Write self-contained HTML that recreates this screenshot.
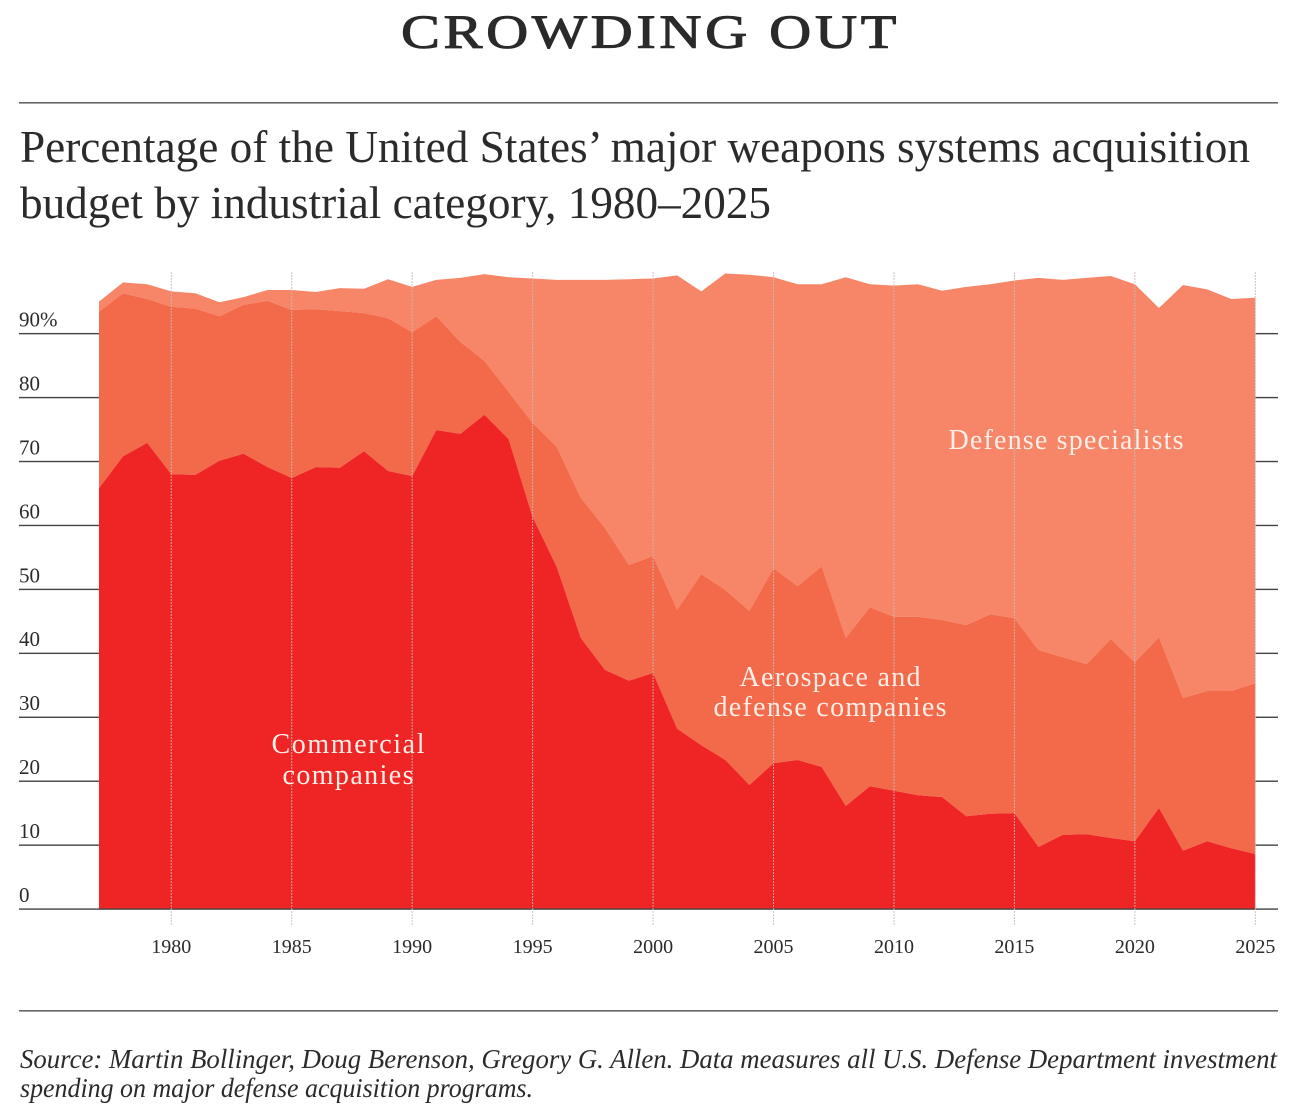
<!DOCTYPE html>
<html lang="en">
<head>
<meta charset="utf-8">
<title>Crowding Out</title>
<style>
html,body{margin:0;padding:0;background:#fff}
body{width:1304px;height:1120px;overflow:hidden}
svg{display:block}
text{font-family:"Liberation Serif",serif}
</style>
</head>
<body>
<svg id="figure" xmlns="http://www.w3.org/2000/svg" width="1304" height="1120" viewBox="0 0 1304 1120">
  <rect x="0" y="0" width="1304" height="1120" fill="#ffffff"/>
  <text x="401" y="48" font-size="48" fill="#2a2a2a" letter-spacing="3" textLength="499" lengthAdjust="spacingAndGlyphs" stroke="#2a2a2a" stroke-width="1">CROWDING OUT</text>
  <rect x="19" y="102" width="1259" height="1.6" fill="#666"/>
  <text x="20" y="162" font-size="46" fill="#2b2b2b" textLength="1230" lengthAdjust="spacingAndGlyphs">Percentage of the United States’ major weapons systems acquisition</text>
  <text x="20" y="218" font-size="46" fill="#2b2b2b" textLength="751" lengthAdjust="spacingAndGlyphs">budget by industrial category, 1980–2025</text>
  <g id="chart"></g>
  <text x="1066" y="449" font-size="28" fill="#fdeee8" text-anchor="middle" textLength="235" lengthAdjust="spacing">Defense specialists</text>
  <text x="830" y="686" font-size="28" fill="#fdeee8" text-anchor="middle" textLength="181" lengthAdjust="spacing">Aerospace and</text>
  <text x="830" y="716" font-size="28" fill="#fdeee8" text-anchor="middle" textLength="233" lengthAdjust="spacing">defense companies</text>
  <text x="348" y="753" font-size="28" fill="#fdeee8" text-anchor="middle" textLength="153" lengthAdjust="spacing">Commercial</text>
  <text x="348" y="784" font-size="28" fill="#fdeee8" text-anchor="middle" textLength="131" lengthAdjust="spacing">companies</text>
  <rect x="19" y="1010" width="1259" height="1.6" fill="#666"/>
  <text x="20" y="1068" font-size="27" font-style="italic" fill="#2b2b2b" textLength="1257" lengthAdjust="spacingAndGlyphs">Source: Martin Bollinger, Doug Berenson, Gregory G. Allen. Data measures all U.S. Defense Department investment</text>
  <text x="20" y="1097" font-size="27" font-style="italic" fill="#2b2b2b" textLength="513" lengthAdjust="spacingAndGlyphs">spending on major defense acquisition programs.</text>
</svg>
<script>
const firstYear = 1977;
const commercial = [65.8,70.8,72.9,68.0,67.9,70.1,71.2,69.1,67.4,69.1,69.0,71.6,68.5,67.7,74.9,74.3,77.3,73.5,61.3,53.5,42.4,37.4,35.7,36.9,28.2,25.6,23.3,19.4,22.8,23.3,22.2,16.1,19.2,18.5,17.8,17.5,14.5,14.9,15.0,9.7,11.6,11.7,11.1,10.6,15.8,9.1,10.6,9.5,8.6];
const aerospace = [27.6,25.5,22.5,26.2,26.0,22.6,23.3,26.0,26.3,24.7,24.5,21.6,23.9,22.5,17.8,14.4,8.4,7.4,14.7,18.8,21.9,22.2,18.1,18.3,18.6,26.8,26.6,27.2,30.5,27.2,31.4,26.3,28.0,27.2,27.9,27.7,29.9,31.2,30.5,30.8,27.8,26.6,31.1,28.0,26.7,23.9,23.5,24.6,26.7];
const specialists = [1.6,1.7,2.3,2.4,2.4,2.2,1.2,1.7,3.1,2.7,3.6,3.8,6.1,7.1,5.7,10.0,13.6,17.9,22.6,26.1,34.1,38.8,44.7,43.4,52.3,44.2,49.5,52.6,45.5,47.2,44.1,56.4,50.5,51.8,52.0,51.5,52.9,51.6,52.8,58.2,59.0,60.4,56.8,59.1,51.5,64.6,62.8,61.3,60.3];
const xTickYears = [1980,1985,1990,1995,2000,2005,2010,2015,2020,2025];
const yTickValues = [0,10,20,30,40,50,60,70,80,90];
const yTickLabels = ["0","10","20","30","40","50","60","70","80","90%"];

const NS = "http://www.w3.org/2000/svg";
const chart = document.getElementById("chart");
function xScale(year) { return 99 + (year - firstYear) * 24.09; }
function yScale(value) { return 909 - value * 6.394; }
function make(tag, attrs, parent) {
  const el = document.createElementNS(NS, tag);
  for (const k in attrs) el.setAttribute(k, attrs[k]);
  parent.appendChild(el);
  return el;
}
function areaPoints(lower, upper) {
  const top = upper.map((v, i) => xScale(firstYear + i).toFixed(2) + "," + yScale(v).toFixed(2));
  const bottom = lower.map((v, i) => xScale(firstYear + i).toFixed(2) + "," + yScale(v).toFixed(2)).reverse();
  return top.concat(bottom).join(" ");
}
const zeros = commercial.map(() => 0);
const stack1 = commercial.slice();
const stack2 = commercial.map((v, i) => v + aerospace[i]);
const stack3 = stack2.map((v, i) => v + specialists[i]);

const areaSpecialists = make("polygon", {points: areaPoints(stack2, stack3), fill: "#f78668"}, chart);


const areaAerospace = make("polygon", {points: areaPoints(stack1, stack2), fill: "#f36a4a"}, chart);


const areaCommercial = make("polygon", {points: areaPoints(zeros, stack1), fill: "#ee2524"}, chart);



yTickValues.forEach((value, i) => {
  const y = yScale(value);
  if (value === 0) {
    const base = make("rect", {x: 19, y: y - 0.6, width: 1259, height: 1.4, fill: "#444"}, chart);
    
    
  } else {
    const left = make("rect", {x: 19, y: y - 0.6, width: 80, height: 1.4, fill: "#444"}, chart);
    
    
    const right = make("rect", {x: 1255.5, y: y - 0.6, width: 22.5, height: 1.4, fill: "#444"}, chart);
    
    
  }
  const label = make("text", {x: 19, y: y - 7, "font-size": 21, fill: "#2b2b2b"}, chart);
  
  
  label.textContent = yTickLabels[i];
});

xTickYears.forEach((year) => {
  const x = xScale(year);
  const grid = make("line", {x1: x, x2: x, y1: 272, y2: 925, stroke: "#c4bcb6", "stroke-width": 1, "stroke-dasharray": "2 1", "stroke-opacity": 0.85}, chart);
  
  
  const label = make("text", {x: x, y: 953, "font-size": 20, fill: "#2b2b2b", "text-anchor": "middle"}, chart);
  
  
  label.textContent = String(year);
});
</script>
</body>
</html>
